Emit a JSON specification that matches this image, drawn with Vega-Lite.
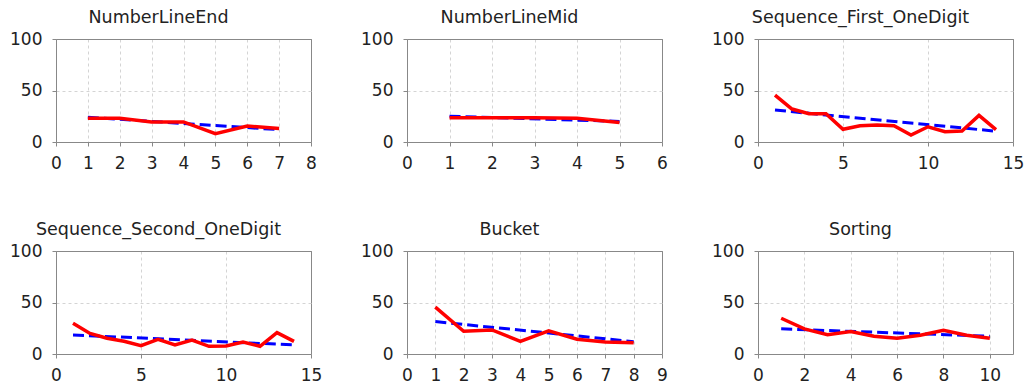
{
  "$schema": "https://vega.github.io/schema/vega-lite/v6.json",
  "autosize": {"type": "pad"},
  "padding": {"left": 9, "top": 8, "right": 0, "bottom": 0},
  "background": "white",
  "columns": 3,
  "spacing": {"column": 96, "row": 109},
  "bounds": "flush",
  "config": {
    "font": "DejaVu Sans",
    "view": {"stroke": "#888888", "strokeWidth": 1},
    "axis": {
      "title": null,
      "labelFont": "DejaVu Sans",
      "labelFontSize": 17,
      "labelColor": "#222222",
      "labelPadding": 9,
      "labelFlush": false,
      "labelOverlap": false,
      "tickSize": 4,
      "tickColor": "#888888",
      "domainColor": "#888888",
      "gridColor": "#d4d4d4",
      "gridDash": [3, 3]
    },
    "axisY": {
      "labelPadding": 10,
      "gridColor": {"condition": {"test": "datum.value === 100", "value": "#888888"}, "value": "#d4d4d4"},
      "gridDash": {"condition": {"test": "datum.value === 100", "value": []}, "value": [3, 3]}
    },
    "title": {
      "font": "DejaVu Sans",
      "fontSize": 17.5,
      "fontWeight": "normal",
      "color": "#222222",
      "frame": "group",
      "anchor": "middle",
      "dx": -25,
      "offset": 4
    },
    "line": {"strokeCap": "butt"}
  },
  "datasets": {
    "obs": [
      {"task": "NumberLineEnd", "x": 1, "y": 23},
      {"task": "NumberLineEnd", "x": 2, "y": 23},
      {"task": "NumberLineEnd", "x": 3, "y": 19.5},
      {"task": "NumberLineEnd", "x": 4, "y": 19.5},
      {"task": "NumberLineEnd", "x": 5, "y": 8},
      {"task": "NumberLineEnd", "x": 6, "y": 15.5},
      {"task": "NumberLineEnd", "x": 7, "y": 13},
      {"task": "NumberLineMid", "x": 1, "y": 23.5},
      {"task": "NumberLineMid", "x": 2, "y": 23.5},
      {"task": "NumberLineMid", "x": 3, "y": 23.5},
      {"task": "NumberLineMid", "x": 4, "y": 23},
      {"task": "NumberLineMid", "x": 5, "y": 19},
      {"task": "Sequence_First_OneDigit", "x": 1, "y": 45.5},
      {"task": "Sequence_First_OneDigit", "x": 2, "y": 32},
      {"task": "Sequence_First_OneDigit", "x": 3, "y": 27.5},
      {"task": "Sequence_First_OneDigit", "x": 4, "y": 27.5},
      {"task": "Sequence_First_OneDigit", "x": 5, "y": 12.3},
      {"task": "Sequence_First_OneDigit", "x": 6, "y": 15.8},
      {"task": "Sequence_First_OneDigit", "x": 7, "y": 16.5},
      {"task": "Sequence_First_OneDigit", "x": 8, "y": 15.8},
      {"task": "Sequence_First_OneDigit", "x": 9, "y": 6.8},
      {"task": "Sequence_First_OneDigit", "x": 10, "y": 14.8},
      {"task": "Sequence_First_OneDigit", "x": 11, "y": 10},
      {"task": "Sequence_First_OneDigit", "x": 12, "y": 10.6},
      {"task": "Sequence_First_OneDigit", "x": 13, "y": 25.8},
      {"task": "Sequence_First_OneDigit", "x": 14, "y": 12},
      {"task": "Sequence_Second_OneDigit", "x": 1, "y": 29.9},
      {"task": "Sequence_Second_OneDigit", "x": 2, "y": 20},
      {"task": "Sequence_Second_OneDigit", "x": 3, "y": 15.3},
      {"task": "Sequence_Second_OneDigit", "x": 4, "y": 12.3},
      {"task": "Sequence_Second_OneDigit", "x": 5, "y": 8.1},
      {"task": "Sequence_Second_OneDigit", "x": 6, "y": 14.3},
      {"task": "Sequence_Second_OneDigit", "x": 7, "y": 8.8},
      {"task": "Sequence_Second_OneDigit", "x": 8, "y": 13.6},
      {"task": "Sequence_Second_OneDigit", "x": 9, "y": 7.5},
      {"task": "Sequence_Second_OneDigit", "x": 10, "y": 7.8},
      {"task": "Sequence_Second_OneDigit", "x": 11, "y": 11.7},
      {"task": "Sequence_Second_OneDigit", "x": 12, "y": 7.5},
      {"task": "Sequence_Second_OneDigit", "x": 13, "y": 20.8},
      {"task": "Sequence_Second_OneDigit", "x": 14, "y": 12.3},
      {"task": "Bucket", "x": 1, "y": 45.5},
      {"task": "Bucket", "x": 2, "y": 22},
      {"task": "Bucket", "x": 3, "y": 23.4},
      {"task": "Bucket", "x": 4, "y": 12.3},
      {"task": "Bucket", "x": 5, "y": 22.4},
      {"task": "Bucket", "x": 6, "y": 14.3},
      {"task": "Bucket", "x": 7, "y": 11.7},
      {"task": "Bucket", "x": 8, "y": 11},
      {"task": "Sorting", "x": 1, "y": 34.7},
      {"task": "Sorting", "x": 2, "y": 24.4},
      {"task": "Sorting", "x": 3, "y": 18.8},
      {"task": "Sorting", "x": 4, "y": 21.8},
      {"task": "Sorting", "x": 5, "y": 17.2},
      {"task": "Sorting", "x": 6, "y": 15.3},
      {"task": "Sorting", "x": 7, "y": 18.2},
      {"task": "Sorting", "x": 8, "y": 23},
      {"task": "Sorting", "x": 9, "y": 18.2},
      {"task": "Sorting", "x": 10, "y": 15.3}
    ],
    "fit": [
      {"task": "NumberLineEnd", "x": 1, "y": 24},
      {"task": "NumberLineEnd", "x": 7, "y": 12},
      {"task": "NumberLineMid", "x": 1, "y": 25},
      {"task": "NumberLineMid", "x": 5, "y": 20},
      {"task": "Sequence_First_OneDigit", "x": 1, "y": 31},
      {"task": "Sequence_First_OneDigit", "x": 14, "y": 10.5},
      {"task": "Sequence_Second_OneDigit", "x": 1, "y": 18.5},
      {"task": "Sequence_Second_OneDigit", "x": 14, "y": 8.8},
      {"task": "Bucket", "x": 1, "y": 31.5},
      {"task": "Bucket", "x": 8, "y": 12},
      {"task": "Sorting", "x": 1, "y": 24.4},
      {"task": "Sorting", "x": 10, "y": 17.2}
    ]
  },
  "concat": [
    {
      "title": "NumberLineEnd",
      "width": 255, "height": 103,
      "encoding": {
        "x": {"field": "x", "type": "quantitative", "scale": {"domain": [0, 8], "nice": false},
              "axis": {"values": [0, 1, 2, 3, 4, 5, 6, 7, 8],
                       "gridColor": {"condition": {"test": "datum.value === 8", "value": "#888888"}, "value": "#d4d4d4"},
                       "gridDash": {"condition": {"test": "datum.value === 8", "value": []}, "value": [3, 3]}}},
        "y": {"field": "y", "type": "quantitative", "scale": {"domain": [0, 100], "nice": false}, "axis": {"values": [0, 50, 100]}}
      },
      "layer": [
        {"data": {"name": "fit"}, "transform": [{"filter": "datum.task === 'NumberLineEnd'"}],
         "mark": {"type": "line", "color": "#0000ff", "strokeWidth": 3, "strokeDash": [11, 5]}},
        {"data": {"name": "obs"}, "transform": [{"filter": "datum.task === 'NumberLineEnd'"}],
         "mark": {"type": "line", "color": "#ff0000", "strokeWidth": 3.5}}
      ]
    },
    {
      "title": "NumberLineMid",
      "width": 255, "height": 103,
      "encoding": {
        "x": {"field": "x", "type": "quantitative", "scale": {"domain": [0, 6], "nice": false},
              "axis": {"values": [0, 1, 2, 3, 4, 5, 6],
                       "gridColor": {"condition": {"test": "datum.value === 6", "value": "#888888"}, "value": "#d4d4d4"},
                       "gridDash": {"condition": {"test": "datum.value === 6", "value": []}, "value": [3, 3]}}},
        "y": {"field": "y", "type": "quantitative", "scale": {"domain": [0, 100], "nice": false}, "axis": {"values": [0, 50, 100]}}
      },
      "layer": [
        {"data": {"name": "fit"}, "transform": [{"filter": "datum.task === 'NumberLineMid'"}],
         "mark": {"type": "line", "color": "#0000ff", "strokeWidth": 3, "strokeDash": [11, 5]}},
        {"data": {"name": "obs"}, "transform": [{"filter": "datum.task === 'NumberLineMid'"}],
         "mark": {"type": "line", "color": "#ff0000", "strokeWidth": 3.5}}
      ]
    },
    {
      "title": "Sequence_First_OneDigit",
      "width": 255, "height": 103,
      "encoding": {
        "x": {"field": "x", "type": "quantitative", "scale": {"domain": [0, 15], "nice": false},
              "axis": {"values": [0, 5, 10, 15],
                       "gridColor": {"condition": {"test": "datum.value === 15", "value": "#888888"}, "value": "#d4d4d4"},
                       "gridDash": {"condition": {"test": "datum.value === 15", "value": []}, "value": [3, 3]}}},
        "y": {"field": "y", "type": "quantitative", "scale": {"domain": [0, 100], "nice": false}, "axis": {"values": [0, 50, 100]}}
      },
      "layer": [
        {"data": {"name": "fit"}, "transform": [{"filter": "datum.task === 'Sequence_First_OneDigit'"}],
         "mark": {"type": "line", "color": "#0000ff", "strokeWidth": 3, "strokeDash": [11, 5]}},
        {"data": {"name": "obs"}, "transform": [{"filter": "datum.task === 'Sequence_First_OneDigit'"}],
         "mark": {"type": "line", "color": "#ff0000", "strokeWidth": 3.5}}
      ]
    },
    {
      "title": "Sequence_Second_OneDigit",
      "width": 255, "height": 103,
      "encoding": {
        "x": {"field": "x", "type": "quantitative", "scale": {"domain": [0, 15], "nice": false},
              "axis": {"values": [0, 5, 10, 15],
                       "gridColor": {"condition": {"test": "datum.value === 15", "value": "#888888"}, "value": "#d4d4d4"},
                       "gridDash": {"condition": {"test": "datum.value === 15", "value": []}, "value": [3, 3]}}},
        "y": {"field": "y", "type": "quantitative", "scale": {"domain": [0, 100], "nice": false}, "axis": {"values": [0, 50, 100]}}
      },
      "layer": [
        {"data": {"name": "fit"}, "transform": [{"filter": "datum.task === 'Sequence_Second_OneDigit'"}],
         "mark": {"type": "line", "color": "#0000ff", "strokeWidth": 3, "strokeDash": [11, 5]}},
        {"data": {"name": "obs"}, "transform": [{"filter": "datum.task === 'Sequence_Second_OneDigit'"}],
         "mark": {"type": "line", "color": "#ff0000", "strokeWidth": 3.5}}
      ]
    },
    {
      "title": "Bucket",
      "width": 255, "height": 103,
      "encoding": {
        "x": {"field": "x", "type": "quantitative", "scale": {"domain": [0, 9], "nice": false},
              "axis": {"values": [0, 1, 2, 3, 4, 5, 6, 7, 8, 9],
                       "gridColor": {"condition": {"test": "datum.value === 9", "value": "#888888"}, "value": "#d4d4d4"},
                       "gridDash": {"condition": {"test": "datum.value === 9", "value": []}, "value": [3, 3]}}},
        "y": {"field": "y", "type": "quantitative", "scale": {"domain": [0, 100], "nice": false}, "axis": {"values": [0, 50, 100]}}
      },
      "layer": [
        {"data": {"name": "fit"}, "transform": [{"filter": "datum.task === 'Bucket'"}],
         "mark": {"type": "line", "color": "#0000ff", "strokeWidth": 3, "strokeDash": [11, 5]}},
        {"data": {"name": "obs"}, "transform": [{"filter": "datum.task === 'Bucket'"}],
         "mark": {"type": "line", "color": "#ff0000", "strokeWidth": 3.5}}
      ]
    },
    {
      "title": "Sorting",
      "width": 255, "height": 103,
      "encoding": {
        "x": {"field": "x", "type": "quantitative", "scale": {"domain": [0, 11], "nice": false},
              "axis": {"values": [0, 2, 4, 6, 8, 10]}},
        "y": {"field": "y", "type": "quantitative", "scale": {"domain": [0, 100], "nice": false}, "axis": {"values": [0, 50, 100]}}
      },
      "layer": [
        {"data": {"name": "fit"}, "transform": [{"filter": "datum.task === 'Sorting'"}],
         "mark": {"type": "line", "color": "#0000ff", "strokeWidth": 3, "strokeDash": [11, 5]}},
        {"data": {"name": "obs"}, "transform": [{"filter": "datum.task === 'Sorting'"}],
         "mark": {"type": "line", "color": "#ff0000", "strokeWidth": 3.5}}
      ]
    }
  ]
}
